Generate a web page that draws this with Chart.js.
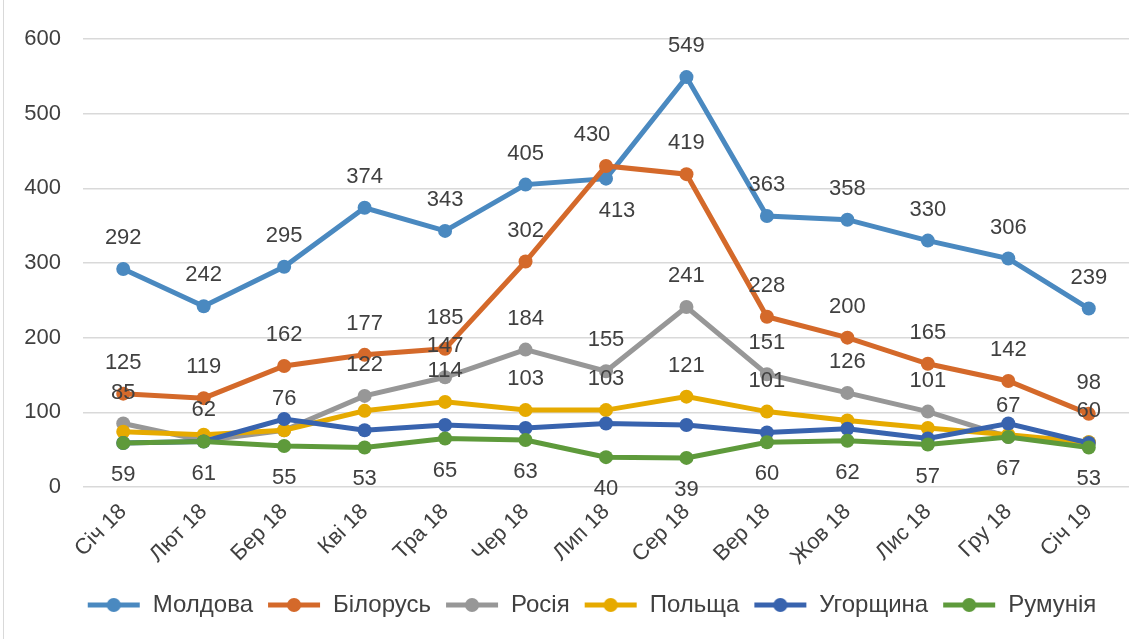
<!DOCTYPE html>
<html>
<head>
<meta charset="utf-8">
<title>Line chart</title>
<script src="https://cdn.jsdelivr.net/npm/chart.js@4.4.0/dist/chart.umd.min.js"></script>
<style>
  html, body { margin: 0; padding: 0; background: #fff; }
  #wrap { position: relative; width: 1144px; height: 639px; }
  #wrap:before { content: ""; position: absolute; left: 3px; top: 0; bottom: 0; border-left: 1px solid #d9d9d9; }
</style>
</head>
<body>
<div id="wrap"><canvas id="chart" width="1144" height="639"></canvas></div>
<script>
const months = ["Січ 18", "Лют 18", "Бер 18", "Кві 18", "Тра 18", "Чер 18", "Лип 18",
  "Сер 18", "Вер 18", "Жов 18", "Лис 18", "Гру 18", "Січ 19"];
const yTicks = [0, 100, 200, 300, 400, 500, 600];

const moldova  = [292, 242, 295, 374, 343, 405, 413, 549, 363, 358, 330, 306, 239];
const belarus  = [125, 119, 162, 177, 185, 302, 430, 419, 228, 200, 165, 142, 98];
const russia   = [85, 62, 76, 122, 147, 184, 155, 241, 151, 126, 101, 67, 60];
const poland   = [74, 70, 76, 102, 114, 103, 103, 121, 101, 89, 79, 70, 60];
const hungary  = [59, 61, 91, 76, 83, 79, 85, 83, 73, 78, 65, 85, 59];
const romania  = [59, 61, 55, 53, 65, 63, 40, 39, 60, 62, 57, 67, 53];

// which points get a value label (index lists), and on which side
const labelled = {
  "Молдова": months.map((m, i) => i),
  "Білорусь": months.map((m, i) => i),
  "Росія": months.map((m, i) => i),
  "Польща": [4, 5, 6, 7, 8],
  "Угорщина": [],
  "Румунія": months.map((m, i) => i),
};
const below = { "Румунія": "all", "Молдова": [6] };
// a couple of labels were nudged sideways in the original
const nudge = { "Білорусь": { 6: -14 }, "Молдова": { 6: 11 } };

const FONT = "'Liberation Sans', Arial, sans-serif";
const TEXT = "#404040";

const series = [
  { name: "Молдова", data: moldova, color: "#4a89c0" },
  { name: "Білорусь", data: belarus, color: "#d4692a" },
  { name: "Росія", data: russia, color: "#979797" },
  { name: "Польща", data: poland, color: "#e6aa00" },
  { name: "Угорщина", data: hungary, color: "#3863ae" },
  { name: "Румунія", data: romania, color: "#5e9a3b" },
];

// legend marker: short line with a dot
function legendMarker(color) {
  const c = document.createElement("canvas");
  c.width = 54; c.height = 16;
  const g = c.getContext("2d");
  g.strokeStyle = color; g.lineWidth = 5;
  g.beginPath(); g.moveTo(1, 8); g.lineTo(53, 8); g.stroke();
  g.fillStyle = color;
  g.beginPath(); g.arc(27, 8, 7, 0, Math.PI * 2); g.fill();
  return c;
}

const valueLabels = {
  id: "valueLabels",
  // legend in the original is centred a bit right of the canvas middle
  afterLayout(chart) {
    chart.legend.left += 27;
    chart.legend.right += 27;
  },
  afterDatasetsDraw(chart) {
    const ctx = chart.ctx;
    ctx.save();
    ctx.font = "22px " + FONT;
    ctx.fillStyle = TEXT;
    ctx.textAlign = "center";
    ctx.textBaseline = "middle";
    chart.data.datasets.forEach((ds, i) => {
      const idx = labelled[ds.label] || [];
      const b = below[ds.label];
      const dx = nudge[ds.label] || {};
      chart.getDatasetMeta(i).data.forEach((pt, j) => {
        if (!idx.includes(j)) return;
        const down = b === "all" || (Array.isArray(b) && b.includes(j));
        ctx.fillText(String(ds.data[j]), pt.x + (dx[j] || 0), pt.y + (down ? 32 : -31));
      });
    });
    ctx.restore();
  }
};

const chart = new Chart(document.getElementById("chart"), {
  type: "line",
  data: {
    labels: months,
    datasets: series.map((s, i) => ({
      label: s.name,
      data: s.data,
      borderColor: s.color,
      backgroundColor: s.color,
      borderWidth: 5,
      pointRadius: 7,
      pointBorderWidth: 0,
      pointStyle: "circle",
      tension: 0,
      order: series.length - i,
      legendMarker: legendMarker(s.color),
    })),
  },
  options: {
    responsive: false,
    animation: false,
    layout: { padding: { top: 39, right: 15, bottom: 12, left: 0 } },
    scales: {
      x: {
        offset: true,
        grid: { display: false },
        border: { display: false },
        ticks: { color: TEXT, font: { family: FONT, size: 22 }, minRotation: 45, maxRotation: 45, padding: 4 },
        afterFit(scale) { scale.height = 92; },
      },
      y: {
        min: 0, max: 600,
        afterBuildTicks(scale) { scale.ticks = yTicks.map((v) => ({ value: v })); },
        grid: { color: "#d9d9d9", lineWidth: 1.5, drawTicks: false },
        border: { display: false },
        ticks: { color: TEXT, font: { family: FONT, size: 22 }, padding: 22 },
        afterFit(scale) { scale.width = 83; },
      },
    },
    plugins: {
      tooltip: { enabled: false },
      legend: {
        position: "bottom",
        labels: {
          color: TEXT,
          font: { family: FONT, size: 24 },
          usePointStyle: true,
          pointStyleWidth: 54,
          padding: 14,
          sort: (a, b) => a.datasetIndex - b.datasetIndex,
          generateLabels(chart) {
            return chart.data.datasets.map((ds, i) => ({
              text: ds.label,
              fillStyle: ds.borderColor,
              strokeStyle: ds.borderColor,
              fontColor: TEXT,
              lineWidth: 0,
              pointStyle: ds.legendMarker,
              datasetIndex: i,
              hidden: false,
            }));
          },
        },
      },
    },
  },
  plugins: [valueLabels],
});
</script>
</body>
</html>
